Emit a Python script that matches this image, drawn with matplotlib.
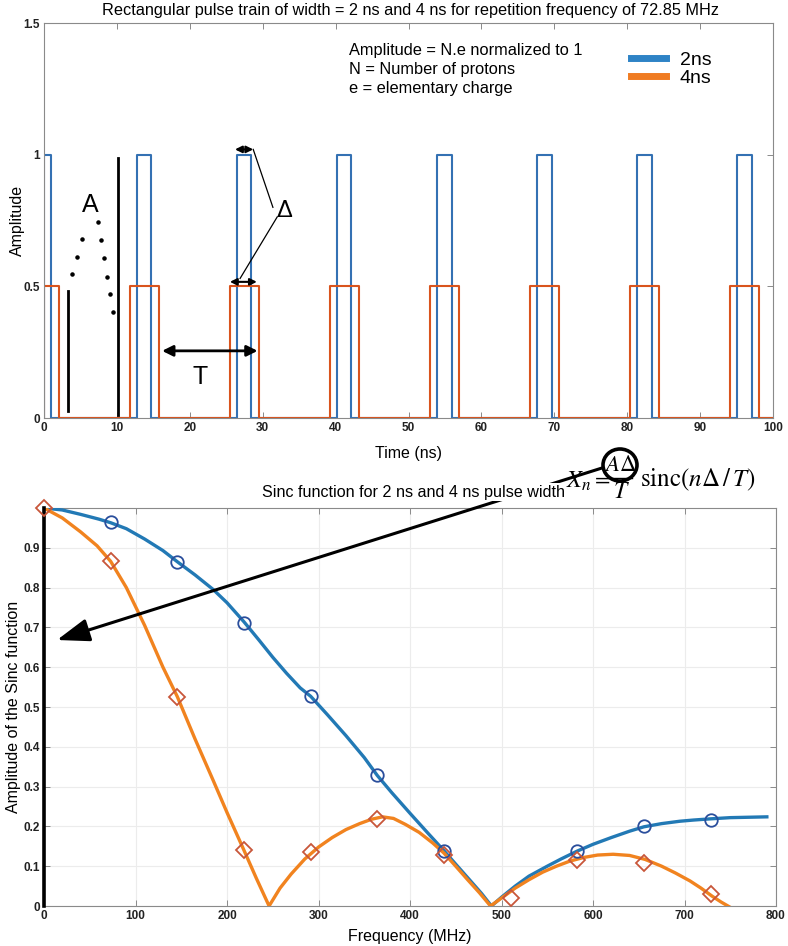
import matplotlib
matplotlib.use("Agg")
import matplotlib.pyplot as plt
from matplotlib.lines import Line2D
from matplotlib.patches import Ellipse, FancyArrowPatch

plt.rcParams['font.family'] = ['Liberation Sans', 'DejaVu Sans']
plt.rcParams['mathtext.fontset'] = 'stix'

# ---------------- data ----------------
# top: rectangular pulse trains (72.85 MHz repetition -> period 13.73 ns)
pulse_centers_ns = [0.0, 13.73, 27.45, 41.18, 54.91, 68.63, 82.36, 96.09]
pulse_width_2ns = 2.0
pulse_width_4ns = 4.0
pulse_amp_2ns = 1.0
pulse_amp_4ns = 0.5
time_ticks = [0, 10, 20, 30, 40, 50, 60, 70, 80, 90, 100]
amp_ticks = [0, 0.5, 1, 1.5]
amp_tick_labels = ['0', '0.5', '1', '1.5']

# bottom: sinc envelopes (curves)
curve_freq_2ns = [0, 20, 40, 60, 72.85, 90, 110, 130, 145.7, 165, 185, 200, 218.55, 235, 250, 265,
                  280, 291.4, 310, 330, 350, 364.25, 380, 400, 420, 437.1, 450, 465, 478, 489,
                  500, 515, 530, 550, 565, 582.8, 600, 620, 640, 655.65, 675, 695, 710, 728.5,
                  750, 770, 790]
curve_amp_2ns = [1.0, 0.995, 0.984, 0.972, 0.963, 0.948, 0.922, 0.893, 0.865, 0.832, 0.795, 0.762,
                 0.714, 0.668, 0.625, 0.585, 0.548, 0.527, 0.48, 0.428, 0.373, 0.328, 0.285, 0.233,
                 0.182, 0.139, 0.105, 0.066, 0.032, 0.0, 0.022, 0.05, 0.075, 0.1, 0.118, 0.138,
                 0.155, 0.172, 0.188, 0.199, 0.207, 0.213, 0.216, 0.219, 0.222, 0.223, 0.224]
curve_freq_4ns = [0, 20, 40, 58, 72.85, 90, 110, 130, 145.7, 165, 185, 200, 218.55, 232, 246, 258,
                  270, 285, 300, 315, 330, 345, 358, 370, 382, 395, 410, 425, 437.1, 450, 463, 476,
                  488, 500, 515, 530, 545, 560, 575, 590, 605, 622, 640, 657, 675, 690, 706, 718,
                  730, 740, 749]
curve_amp_4ns = [1.0, 0.975, 0.94, 0.905, 0.866, 0.8, 0.705, 0.6, 0.526, 0.42, 0.315, 0.235, 0.14,
                 0.07, 0.0, 0.045, 0.08, 0.118, 0.148, 0.172, 0.192, 0.207, 0.218, 0.224, 0.22,
                 0.205, 0.185, 0.158, 0.133, 0.1, 0.066, 0.033, 0.0, 0.02, 0.045, 0.066, 0.085,
                 0.1, 0.113, 0.122, 0.128, 0.13, 0.127, 0.117, 0.1, 0.083, 0.063, 0.045, 0.025,
                 0.01, -0.002]
# harmonic sample points (markers)
marker_freq_2ns = [72.85, 145.7, 218.55, 291.4, 364.25, 437.1, 582.8, 655.65, 728.5]
marker_amp_2ns = [0.965, 0.865, 0.712, 0.528, 0.328, 0.139, 0.137, 0.201, 0.217]
marker_freq_4ns = [0, 72.85, 145.7, 218.55, 291.4, 364.25, 437.1, 509.95, 582.8, 655.65, 728.5]
marker_amp_4ns = [1.0, 0.866, 0.526, 0.14, 0.135, 0.218, 0.128, 0.02, 0.115, 0.108, 0.03]
freq_ticks = [0, 100, 200, 300, 400, 500, 600, 700, 800]
sinc_ticks = [0, 0.1, 0.2, 0.3, 0.4, 0.5, 0.6, 0.7, 0.8, 0.9]

# ---------------- styles ----------------
W, H = 788, 946
def fx(px): return px / W
def fy(py): return 1 - py / H

BLUE_T = '#3471B3'
ORNG_T = '#D9541D'
BLUE_B = '#2279B5'
ORNG_B = '#F1831F'
SPINE = '#8a8a8a'

def pulse_train(centers, width, amp, t0, t1):
    xs, ys = [t0], [0.0]
    for c in centers:
        a = max(c - width / 2, t0)
        b = min(c + width / 2, t1)
        xs += [a, a, b, b]
        ys += [0.0, amp, amp, 0.0]
    xs.append(t1); ys.append(0.0)
    return xs, ys

def style_axes(ax):
    for s in ax.spines.values():
        s.set_color(SPINE)
        s.set_linewidth(0.8)
    ax.tick_params(direction='in', top=True, right=True, length=4, width=0.7,
                   color=SPINE, labelsize=8.5, pad=3, labelcolor='#222222')

fig = plt.figure(figsize=(W / 100, H / 100), dpi=100)

# ================= top axes =================
ax1 = fig.add_axes([fx(44), fy(418), (773 - 44) / W, (418 - 23) / H])
bx, by = pulse_train(pulse_centers_ns, pulse_width_2ns, pulse_amp_2ns, 0, 100)
ox, oy = pulse_train(pulse_centers_ns, pulse_width_4ns, pulse_amp_4ns, 0, 100)
ax1.plot(bx, by, color=BLUE_T, lw=1.5, label='2ns')
ax1.plot(ox, oy, color=ORNG_T, lw=1.5, label='4ns')
ax1.set_xlim(0, 100)
ax1.set_ylim(0, 1.5)
ax1.set_xticks(time_ticks)
ax1.set_xticklabels([str(t) for t in time_ticks], fontweight='bold')
ax1.set_yticks(amp_ticks)
ax1.set_yticklabels(amp_tick_labels, fontweight='bold')
style_axes(ax1)
ax1.set_xlabel('Time (ns)', fontsize=11.5)
ax1.xaxis.set_label_coords(0.5, -0.07)
ax1.set_ylabel('Amplitude', fontsize=11.5)
ax1.yaxis.set_label_coords(-0.026, 0.5)

fig.text(fx(410), fy(11), 'Rectangular pulse train of width = 2 ns and 4 ns for repetition frequency of 72.85 MHz',
         ha='center', va='center', fontsize=11.7)

# info text
for i, line in enumerate(['Amplitude = N.e normalized to 1', 'N = Number of protons', 'e = elementary charge']):
    fig.text(fx(349), fy(50 + 19.5 * i), line, ha='left', va='center', fontsize=11.8)

leg = ax1.legend(handles=[Line2D([], [], color='#2E83C6', lw=5), Line2D([], [], color='#F07C22', lw=5)],
                 labels=['2ns', '4ns'], loc='upper left', bbox_to_anchor=(fx(631), fy(51)),
                 bbox_transform=fig.transFigure, frameon=False, fontsize=14, handlelength=1.8,
                 handletextpad=0.7, labelspacing=0.05, borderpad=0, borderaxespad=0)

# annotations on top plot
k = dict(color='black', clip_on=False)
ax1.plot([3.25, 3.25], [0.028, 0.484], lw=2, **k)
ax1.plot([10.2, 10.2], [0.011, 0.987], lw=2, **k)
dots_x = [3.84, 4.53, 5.21, 7.36, 7.82, 8.23, 8.6, 9.01, 9.47]
dots_y = [0.548, 0.613, 0.679, 0.744, 0.677, 0.607, 0.537, 0.471, 0.403]
ax1.scatter(dots_x, dots_y, s=5, color='black', zorder=5)
ax1.text(6.3, 0.81, 'A', fontsize=18, ha='center', va='center')
ax1.text(21.4, 0.156, 'T', fontsize=18, ha='center', va='center')
ax1.text(32.9, 0.785, 'Δ', fontsize=17, ha='center', va='center')
ax1.annotate('', xy=(16.2, 0.255), xytext=(29.3, 0.255),
             arrowprops=dict(arrowstyle='<|-|>', lw=2, color='black', mutation_scale=16,
                             shrinkA=0, shrinkB=0))
ax1.annotate('', xy=(25.5, 0.517), xytext=(29.2, 0.517),
             arrowprops=dict(arrowstyle='<|-|>', lw=1.5, color='black', mutation_scale=10,
                             shrinkA=0, shrinkB=0))
ax1.annotate('', xy=(26.2, 1.02), xytext=(28.7, 1.02),
             arrowprops=dict(arrowstyle='<|-|>', lw=1.5, color='black', mutation_scale=10,
                             shrinkA=0, shrinkB=0), annotation_clip=False)
ax1.plot([31.4, 28.7], [0.80, 1.02], lw=0.9, **k)
ax1.plot([32.0, 26.9], [0.764, 0.53], lw=0.9, **k)

# ================= bottom axes =================
ax2 = fig.add_axes([fx(44), fy(906), (776 - 44) / W, (906 - 508) / H])
ax2.grid(True, color='#ececec', lw=0.8)
ax2.set_axisbelow(True)
ax2.plot(curve_freq_2ns, curve_amp_2ns, color=BLUE_B, lw=2.4, zorder=3)
ax2.plot(curve_freq_4ns, curve_amp_4ns, color=ORNG_B, lw=2.4, zorder=3)
ax2.plot(marker_freq_2ns, marker_amp_2ns, ls='none', marker='o', ms=9, mfc='none',
         mec='#2A4E9C', mew=1.3, zorder=4)
ax2.plot(marker_freq_4ns, marker_amp_4ns, ls='none', marker='D', ms=8.5, mfc='none',
         mec='#C8563A', mew=1.3, zorder=4, clip_on=False)
ax2.plot([0, 0], [0, 1], color='black', lw=2.6, zorder=3.5, clip_on=False)
ax2.set_xlim(0, 800)
ax2.set_ylim(0, 1)
ax2.set_xticks(freq_ticks)
ax2.set_xticklabels([str(t) for t in freq_ticks], fontweight='bold')
ax2.set_yticks(sinc_ticks)
ax2.set_yticklabels(['0'] + ['%.1f' % v for v in sinc_ticks[1:]], fontweight='bold')
style_axes(ax2)
ax2.set_xlabel('Frequency (MHz)', fontsize=11.5)
ax2.xaxis.set_label_coords(0.5, -0.058)
ax2.set_ylabel('Amplitude of the Sinc function', fontsize=11.5)
ax2.yaxis.set_label_coords(-0.031, 0.5)

# arrow from formula to the y-axis
arr = FancyArrowPatch(posA=(fx(602), fy(468)), posB=(fx(57), fy(640)), transform=fig.transFigure,
                      arrowstyle='-|>,head_length=0.9,head_width=0.32', mutation_scale=22,
                      lw=2.2, color='black', shrinkA=0, shrinkB=0, zorder=4)
fig.add_artist(arr)

fig.text(fx(414), fy(492), 'Sinc function for 2 ns and 4 ns pulse width', ha='center', va='center',
         fontsize=11.6, zorder=5, bbox=dict(fc='white', ec='none', pad=1.0))

# formula X_n = (A Delta / T) sinc(n Delta / T)
fig.text(fx(566), fy(481), r'$X_n$', fontsize=17.5, ha='left', va='center', zorder=6)
fig.text(fx(601), fy(479), r'$=$', fontsize=16, ha='center', va='center', zorder=6)
fig.text(fx(620), fy(464), r'$A\Delta$', fontsize=16.5, ha='center', va='center', zorder=6)
fig.add_artist(Line2D([fx(609), fx(632)], [fy(478), fy(478)], transform=fig.transFigure,
                      color='black', lw=1.0, zorder=6))
fig.text(fx(621), fy(492), r'$T$', fontsize=17, ha='center', va='center', zorder=6)
fig.text(fx(640), fy(480), r'$\mathrm{sinc}(n\Delta\,/\,T)$', fontsize=18, ha='left', va='center', zorder=6)
fig.add_artist(Ellipse((fx(620), fy(465)), width=34 / W, height=32 / H, transform=fig.transFigure,
                       fill=False, lw=2.6, color='black', zorder=7))

fig.savefig('out.png', dpi=100)
